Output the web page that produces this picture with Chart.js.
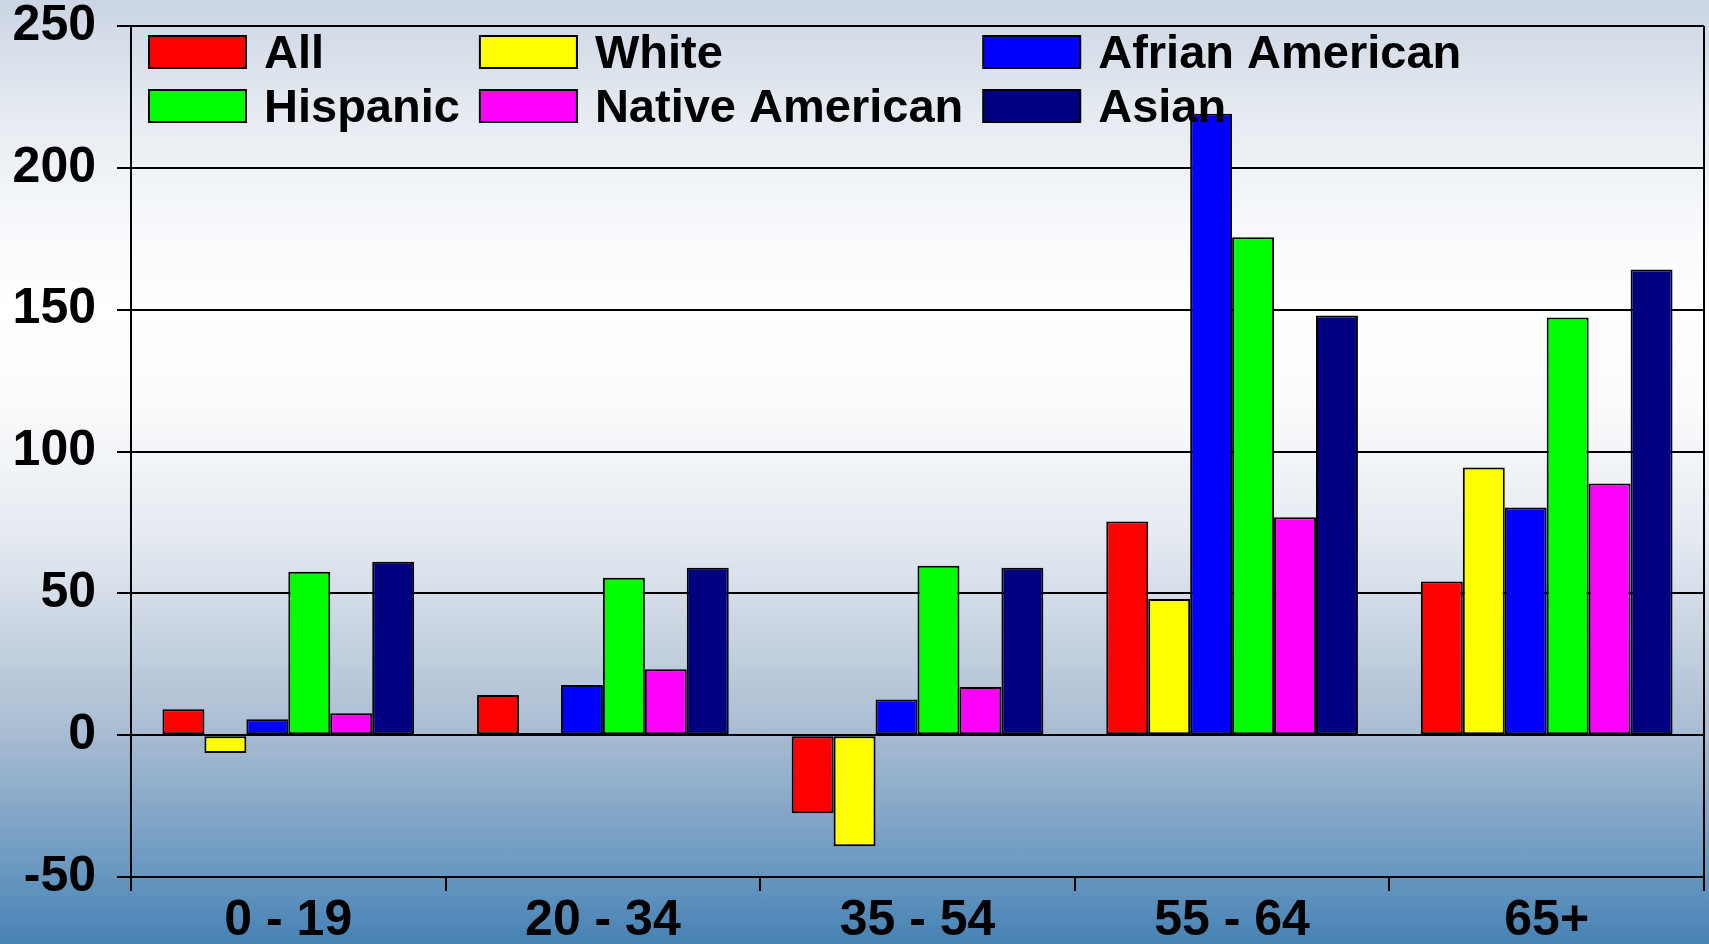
<!DOCTYPE html>
<html>
<head>
<meta charset="utf-8">
<script src="https://cdn.jsdelivr.net/npm/chart.js@4"></script>
<style>
  html, body { margin: 0; padding: 0; }
  body {
    width: 1709px; height: 944px; overflow: hidden;
    background: linear-gradient(to bottom,
      #cbd5e3 0%, #e6ebf1 12%, #f7f9fc 24%, #ffffff 33%, #fbfcfd 42%,
      #e5eaf1 57%, #c6d2e0 68%, #a7bbd1 78%, #6f9bc2 91%, #4682b4 100%);
  }
  canvas { display: block; }
</style>
</head>
<body>
<canvas id="c" width="1709" height="944"></canvas>
<script>
const categories = ['0 - 19', '20 - 34', '35 - 54', '55 - 64', '65+'];
const seriesNames = ['All', 'White', 'Afrian American', 'Hispanic', 'Native American', 'Asian'];
const allValues      = [9.1, 14.2, -27.5, 75.3, 54.2];
const whiteValues    = [-6.3, 0.8, -39.2, 48.0, 94.4];
const africanValues  = [5.6, 17.7, 12.6, 219.1, 80.3];
const hispanicValues = [57.6, 55.5, 59.7, 175.5, 147.2];
const nativeValues   = [7.7, 23.2, 17.0, 76.8, 88.7];
const asianValues    = [61.1, 59.0, 59.0, 147.9, 164.2];
const yTickValues = [-50, 0, 50, 100, 150, 200, 250];
const seriesColors = ['#ff0000', '#ffff00', '#0000ff', '#00ff00', '#ff00ff', '#000080'];

const seriesValues = [allValues, whiteValues, africanValues, hispanicValues, nativeValues, asianValues];

const FONT = '"Liberation Sans", Arial, sans-serif';

const framePlugin = {
  id: 'frame',
  beforeDatasetsDraw(chart) {
    const { ctx, chartArea: a } = chart;
    ctx.save();
    ctx.strokeStyle = '#000';
    ctx.lineWidth = 2;
    ctx.beginPath();
    ctx.moveTo(a.right, a.top);
    ctx.lineTo(a.right, a.bottom);
    ctx.stroke();
    ctx.restore();
  }
};

const gridLegend = {
  id: 'gridLegend',
  afterDraw(chart) {
    const { ctx, chartArea: a } = chart;
    const ds = chart.data.datasets;
    const cols = 3, rows = 2;
    const boxW = 97, boxH = 32, textGap = 18, colGap = 20, rowH = 54;
    ctx.save();
    ctx.font = 'bold 47px ' + FONT;
    const colW = [];
    for (let c = 0; c < cols; c++) {
      let w = 0;
      for (let r = 0; r < rows; r++) {
        const i = r * cols + c;
        if (ds[i]) w = Math.max(w, ctx.measureText(ds[i].label).width);
      }
      colW.push(boxW + textGap + w + colGap);
    }
    const x0 = a.left + 18, y0 = a.top + 10;
    for (let r = 0; r < rows; r++) {
      let x = x0;
      for (let c = 0; c < cols; c++) {
        const i = r * cols + c;
        const d = ds[i];
        if (!d) continue;
        const y = y0 + r * rowH;
        ctx.fillStyle = d.backgroundColor;
        ctx.fillRect(x, y, boxW, boxH);
        ctx.strokeStyle = '#000';
        ctx.lineWidth = 2;
        ctx.strokeRect(x, y, boxW, boxH);
        ctx.fillStyle = '#000';
        ctx.textBaseline = 'alphabetic';
        ctx.textAlign = 'left';
        ctx.fillText(d.label, x + boxW + textGap, y + boxH);
        x += colW[c];
      }
    }
    ctx.restore();
  }
};

new Chart(document.getElementById('c'), {
  type: 'bar',
  data: {
    labels: categories,
    datasets: seriesNames.map((name, i) => ({
      label: name,
      data: seriesValues[i],
      backgroundColor: seriesColors[i],
      borderColor: '#000',
      borderWidth: 2,
      borderSkipped: false,
      categoryPercentage: 0.8,
      barPercentage: 1.0
    }))
  },
  options: {
    responsive: false,
    animation: false,
    devicePixelRatio: 1,
    layout: { padding: { top: 0, right: 5, bottom: 0, left: 0 } },
    plugins: {
      legend: { display: false },
      tooltip: { enabled: false }
    },
    scales: {
      x: {
        grid: {
          offset: true,
          drawOnChartArea: false,
          drawTicks: true,
          tickLength: 14,
          color: '#000',
          lineWidth: 2
        },
        border: { display: true, color: '#000', width: 2 },
        ticks: {
          color: '#000',
          padding: 0,
          font: { family: FONT, size: 50, weight: 'bold', lineHeight: 1.2 }
        },
        afterFit(scale) { scale.height = 67; }
      },
      y: {
        min: -50,
        max: 250,
        afterBuildTicks(scale) { scale.ticks = yTickValues.map(v => ({ value: v })); },
        grid: {
          color: '#000',
          lineWidth: 2,
          drawTicks: true,
          tickLength: 14
        },
        border: { display: true, color: '#000', width: 2 },
        ticks: {
          color: '#000',
          padding: 21,
          font: { family: FONT, size: 50, weight: 'bold', lineHeight: 0.2 }
        },
        afterFit(scale) { scale.width = 131; }
      }
    }
  },
  plugins: [framePlugin, gridLegend]
});
</script>
</body>
</html>
